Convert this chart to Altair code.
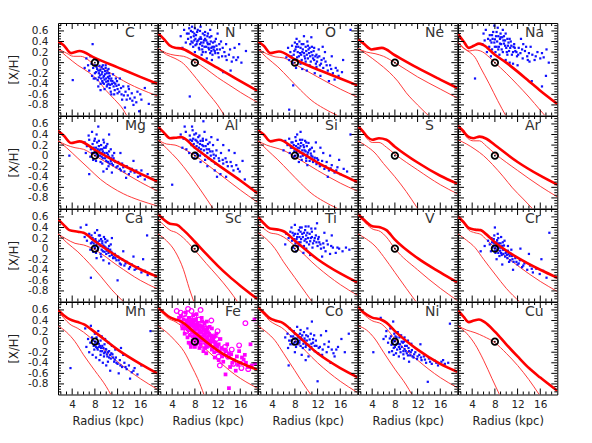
import altair as alt
import pandas as pd

ELEMENTS = ["C", "N", "O", "Ne", "Na",
            "Mg", "Al", "Si", "S", "Ar",
            "Ca", "Sc", "Ti", "V", "Cr",
            "Mn", "Fe", "Co", "Ni", "Cu"]

X_DOMAIN = [1.5, 19.0]
Y_DOMAIN = [-1.0, 0.75]
X_MAJOR = [4, 8, 12, 16]
X_MINOR = [2, 3, 5, 6, 7, 9, 10, 11, 13, 14, 15, 17, 18]
Y_MAJOR = [-0.8, -0.6, -0.4, -0.2, 0, 0.2, 0.4, 0.6]
Y_MINOR = [-0.95, -0.9, -0.85, -0.75, -0.7, -0.65, -0.55, -0.5, -0.45, -0.35, -0.3, -0.25,
           -0.15, -0.1, -0.05, 0.05, 0.1, 0.15, 0.25, 0.3, 0.35, 0.45, 0.5, 0.55, 0.65, 0.7]
SUN_R = [8.0]
SUN_XH = [0.0]

# thick model gradient curves
THICK = {
    "C": [(1.5, 0.40), (2.5, 0.33), (3.8, 0.18), (5.3, 0.22), (8, 0.09), (12, -0.09), (16, -0.27), (19, -0.40)],
    "N": [(1.5, 0.55), (2.5, 0.45), (3.5, 0.33), (4.5, 0.28), (5.5, 0.27), (8, 0.14), (12, -0.10), (16, -0.35), (19, -0.53)],
    "O": [(1.5, 0.40), (2.5, 0.32), (3.7, 0.18), (5.2, 0.21), (8, 0.06), (12, -0.13), (16, -0.30), (19, -0.43)],
    "Ne": [(1.5, 0.44), (2.5, 0.36), (3.9, 0.25), (5.7, 0.28), (8, 0.14), (12, -0.10), (16, -0.32), (19, -0.48)],
    "Na": [(1.5, 0.54), (2.5, 0.40), (3.4, 0.28), (4.3, 0.32), (5.2, 0.36), (6, 0.33), (8, 0.15), (10, 0.0), (12, -0.17), (14, -0.35), (16, -0.53), (19, -0.78)],
    "Mg": [(1.5, 0.47), (2.5, 0.38), (3.8, 0.24), (5.3, 0.27), (8, 0.11), (12, -0.13), (16, -0.34), (19, -0.49)],
    "Al": [(1.5, 0.55), (2.5, 0.44), (3.6, 0.33), (4.6, 0.34), (5.6, 0.35), (8, 0.15), (12, -0.17), (16, -0.47), (19, -0.71)],
    "Si": [(1.5, 0.48), (2.5, 0.40), (3.7, 0.27), (5.2, 0.30), (8, 0.13), (12, -0.13), (16, -0.35), (19, -0.50)],
    "S": [(1.5, 0.55), (2.3, 0.47), (3.2, 0.35), (4, 0.30), (5.2, 0.33), (6.5, 0.30), (8, 0.17), (12, -0.13), (16, -0.38), (19, -0.53)],
    "Ar": [(1.5, 0.56), (2.3, 0.48), (3.3, 0.36), (4.2, 0.33), (5.3, 0.36), (6.5, 0.32), (8, 0.20), (12, -0.12), (16, -0.38), (19, -0.55)],
    "Ca": [(1.5, 0.56), (2.5, 0.45), (3.5, 0.35), (5, 0.32), (6, 0.30), (8, 0.14), (12, -0.15), (16, -0.39), (19, -0.53)],
    "Sc": [(1.5, 0.65), (2.5, 0.55), (3.6, 0.47), (4.8, 0.45), (6, 0.35), (8, 0.13), (10, -0.10), (12, -0.32), (14, -0.52), (16, -0.70), (19, -0.95)],
    "Ti": [(1.5, 0.60), (2.5, 0.48), (3.6, 0.38), (5, 0.36), (6, 0.33), (8, 0.15), (12, -0.20), (16, -0.47), (19, -0.64)],
    "V": [(1.5, 0.65), (2.5, 0.55), (3.9, 0.43), (5.5, 0.40), (6.5, 0.35), (8, 0.17), (12, -0.18), (16, -0.45), (19, -0.64)],
    "Cr": [(1.5, 0.61), (2.5, 0.50), (3.4, 0.39), (4.5, 0.36), (5.5, 0.35), (6.5, 0.27), (8, 0.12), (12, -0.17), (16, -0.40), (19, -0.55)],
    "Mn": [(1.5, 0.60), (2.5, 0.50), (3.6, 0.42), (5, 0.37), (6, 0.33), (8, 0.18), (12, -0.15), (16, -0.42), (19, -0.60)],
    "Fe": [(1.5, 0.64), (2.5, 0.55), (3.3, 0.48), (4.5, 0.42), (5.6, 0.38), (8, 0.17), (12.8, -0.22), (16, -0.40), (19, -0.53)],
    "Co": [(1.5, 0.65), (2.5, 0.55), (3.5, 0.45), (4.5, 0.40), (5.6, 0.37), (8, 0.16), (12, -0.22), (16, -0.50), (19, -0.67)],
    "Ni": [(1.5, 0.66), (2.5, 0.55), (3.9, 0.46), (5.7, 0.41), (6.5, 0.36), (8, 0.20), (12, -0.15), (16, -0.42), (19, -0.57)],
    "Cu": [(1.5, 0.59), (2.5, 0.47), (3.4, 0.37), (4.3, 0.40), (5.2, 0.42), (6.2, 0.37), (8, 0.19), (10, -0.05), (12, -0.28), (14, -0.50), (16, -0.68), (19, -0.93)],
}

# thin model curves (upper)
MID = {
    "C": [(1.5, 0.26), (3, 0.18), (4.2, 0.12), (5.5, 0.12), (8, -0.04), (10, -0.15), (12, -0.28), (14, -0.40), (16, -0.50), (19, -0.63)],
    "N": [(1.5, 0.27), (3, 0.18), (4.5, 0.14), (6, 0.12), (8, 0.02), (10, -0.12), (12, -0.28), (14, -0.42), (16, -0.56), (19, -0.75)],
    "O": [(1.5, 0.26), (3, 0.17), (4.5, 0.11), (6, 0.09), (8, -0.03), (12, -0.27), (16, -0.50), (19, -0.65)],
    "Ne": [(1.5, 0.27), (3, 0.20), (4.5, 0.17), (6, 0.12), (8, 0.0), (12, -0.27), (16, -0.50), (19, -0.67)],
    "Na": [(1.5, 0.38), (2.5, 0.28), (3.5, 0.22), (4.5, 0.24), (5.5, 0.22), (8, 0.0), (10, -0.2), (12, -0.42), (14, -0.65), (16, -0.90), (16.8, -1.0)],
    "Mg": [(1.5, 0.28), (3, 0.20), (4.5, 0.15), (6, 0.12), (8, 0.0), (12, -0.25), (16, -0.50), (19, -0.67)],
    "Al": [(1.5, 0.30), (3, 0.22), (4.5, 0.20), (6, 0.13), (8, 0.0), (12, -0.32), (16, -0.65), (19, -0.88)],
    "Si": [(1.5, 0.28), (3, 0.20), (4.5, 0.15), (6, 0.10), (8, -0.02), (12, -0.28), (16, -0.52), (19, -0.67)],
    "S": [(1.5, 0.52), (2.3, 0.44), (3.2, 0.31), (4, 0.25), (5.2, 0.25), (6.5, 0.16), (8, 0.03), (12, -0.27), (16, -0.55), (19, -0.72)],
    "Ar": [(1.5, 0.53), (2.3, 0.45), (3.3, 0.32), (4.2, 0.28), (5.3, 0.28), (6.5, 0.18), (8, 0.04), (12, -0.28), (16, -0.58), (19, -0.78)],
    "Ca": [(1.5, 0.28), (3, 0.18), (4.5, 0.10), (6, 0.07), (8, -0.02), (12, -0.32), (16, -0.60), (19, -0.76)],
    "Sc": [(1.5, 0.55), (2.5, 0.45), (3.6, 0.35), (4.8, 0.30), (6, 0.20), (8, -0.03), (10, -0.28), (12, -0.52), (14, -0.78), (15.5, -1.0)],
    "Ti": [(1.5, 0.45), (2.5, 0.38), (3.6, 0.30), (5, 0.27), (6, 0.22), (8, 0.05), (12, -0.35), (16, -0.68), (19, -0.88)],
    "V": [(1.5, 0.62), (2.5, 0.52), (3.9, 0.38), (5.5, 0.32), (6.5, 0.22), (8, 0.0), (12, -0.40), (16, -0.75), (19, -0.98)],
    "Cr": [(1.5, 0.58), (2.5, 0.47), (3.4, 0.35), (4.5, 0.30), (5.5, 0.27), (6.5, 0.17), (8, 0.02), (12, -0.32), (16, -0.62), (19, -0.81)],
    "Mn": [(1.5, 0.57), (2.5, 0.45), (3.6, 0.33), (5, 0.25), (6, 0.18), (8, 0.0), (12, -0.38), (16, -0.70), (19, -0.90)],
    "Fe": [(1.5, 0.62), (2.5, 0.52), (3.3, 0.44), (4.5, 0.38), (5.6, 0.30), (8, 0.05), (11.6, -0.31), (15, -0.62), (19, -0.88)],
    "Co": [(1.5, 0.62), (2.5, 0.52), (3.5, 0.40), (4.5, 0.33), (5.6, 0.27), (8, 0.03), (12, -0.40), (16, -0.75), (19, -0.96)],
    "Ni": [(1.5, 0.63), (2.5, 0.52), (3.9, 0.40), (5.7, 0.33), (6.5, 0.25), (8, 0.05), (12, -0.35), (16, -0.68), (19, -0.87)],
    "Cu": [(1.5, 0.30), (3, 0.22), (4.5, 0.17), (6, 0.10), (8, -0.02), (10, -0.22), (12, -0.45), (14, -0.72), (15.8, -1.0)],
}

# thin model curves (lower, steep)
LOW = {
    "C": [(1.5, 0.26), (3, 0.12), (5, -0.05), (7, -0.19), (8.5, -0.33), (10, -0.53), (11.5, -0.70), (13, -0.89), (13.6, -1.0)],
    "N": [(1.5, 0.27), (3, 0.15), (4.5, 0.08), (6, -0.02), (7.5, -0.20), (9, -0.40), (10.5, -0.60), (12, -0.80), (13.2, -1.0)],
    "O": [(1.5, 0.26), (3, 0.10), (5, -0.08), (7, -0.30), (9, -0.52), (11, -0.72), (13, -0.86), (15.5, -1.0)],
    "Ne": [(1.5, 0.27), (3, 0.16), (5, 0.0), (7, -0.18), (8.5, -0.35), (10, -0.57), (12, -0.80), (13.9, -1.0)],
    "Na": [(1.5, 0.38), (2.5, 0.27), (3.5, 0.20), (4.5, 0.10), (5.5, -0.10), (7, -0.40), (8.5, -0.72), (9.9, -1.0)],
    "Mg": [(1.5, 0.28), (3, 0.15), (5, -0.05), (7, -0.25), (9, -0.45), (11, -0.60), (13, -0.72), (16, -0.85), (19, -0.95)],
    "Al": [(1.5, 0.30), (3, 0.14), (5, -0.08), (7, -0.35), (9, -0.65), (11.2, -1.0)],
    "Si": [(1.5, 0.28), (3, 0.12), (5, -0.08), (7, -0.30), (9, -0.52), (11, -0.72), (13, -0.86), (15.5, -1.0)],
    "S": [(1.5, 0.28), (3, 0.18), (4.5, 0.05), (6, -0.15), (8, -0.40), (10, -0.68), (12, -1.0)],
    "Ar": [(1.5, 0.30), (3, 0.22), (4.5, 0.12), (6, 0.0), (7.6, -0.17), (9.5, -0.40), (11.1, -0.61), (13, -0.82), (14.6, -1.0)],
    "Ca": [(1.5, 0.28), (3, 0.12), (5, -0.06), (7, -0.28), (9, -0.52), (11, -0.78), (13, -1.0)],
    "Sc": [(1.5, 0.28), (3, 0.15), (4.5, -0.05), (6, -0.40), (7, -0.75), (7.8, -1.0)],
    "Ti": [(1.5, 0.30), (3, 0.18), (4.5, 0.0), (6, -0.25), (8, -0.55), (10, -0.85), (11, -1.0)],
    "V": [(1.5, 0.28), (3, 0.18), (4.5, 0.05), (6, -0.15), (8, -0.45), (10, -0.75), (11.7, -1.0)],
    "Cr": [(1.5, 0.28), (3, 0.16), (4.5, 0.02), (6, -0.20), (8, -0.48), (10, -0.75), (12.3, -1.0)],
    "Mn": [(1.5, 0.30), (3, 0.18), (4.5, 0.0), (6, -0.25), (8, -0.55), (10, -0.85), (10.8, -1.0)],
    "Fe": [(1.5, 0.30), (3, 0.18), (4.5, 0.02), (6.1, -0.19), (7.5, -0.48), (8.5, -0.70), (9.6, -1.0)],
    "Co": [(1.5, 0.30), (3, 0.18), (4.5, 0.02), (6, -0.22), (8, -0.55), (10, -0.88), (10.8, -1.0)],
    "Ni": [(1.5, 0.30), (3, 0.22), (4.5, 0.05), (6, -0.20), (8, -0.52), (10, -0.82), (11, -1.0)],
    "Cu": [(1.5, 0.30), (3, 0.16), (4.5, -0.05), (6, -0.35), (7.5, -0.70), (8.8, -1.0)],
}

C_OBS = [(7.6, 0.35), (7.2, 0.12), (7.9, 0.08), (8.3, 0.05), (8.6, 0.02), (7.4, -0.02), (8.0, -0.05), (8.8, -0.06), (9.2, -0.08), (7.7, -0.10),
         (8.4, -0.12), (9.0, -0.13), (9.5, -0.12), (8.2, -0.18), (8.7, -0.20), (9.3, -0.18), (9.8, -0.16), (10.1, -0.20), (8.9, -0.24), (9.6, -0.25),
         (10.3, -0.27), (9.1, -0.30), (9.7, -0.32), (10.5, -0.30), (8.5, -0.33), (10.0, -0.36), (10.8, -0.34), (9.4, -0.38), (11.0, -0.40), (10.2, -0.42),
         (11.4, -0.38), (11.8, -0.44), (10.6, -0.48), (12.2, -0.42), (12.6, -0.48), (11.5, -0.52), (13.0, -0.45), (13.4, -0.55), (12.0, -0.58), (14.0, -0.50),
         (13.8, -0.62), (14.5, -0.58), (15.0, -0.66), (12.8, -0.70), (15.5, -0.55), (16.2, -0.70), (14.8, -0.80), (13.3, -0.85), (15.8, -0.92), (6.8, -0.05),
         (6.5, 0.08), (7.0, -0.15), (7.5, -0.25), (8.1, -0.30), (4.1, -0.33), (9.9, -0.05), (10.4, -0.12), (11.2, -0.22), (11.7, -0.30), (12.4, -0.30),
         (6.2, -0.10), (8.6, -0.45), (9.0, -0.52), (10.9, -0.60), (16.8, -0.48), (17.5, -0.78)]
N_OBS = [(6.1, 0.62), (6.6, 0.55), (7.0, 0.65), (7.3, 0.48), (7.6, 0.58), (7.9, 0.42), (8.2, 0.52), (8.5, 0.62), (8.8, 0.45), (9.1, 0.38),
         (9.4, 0.55), (9.7, 0.30), (10.0, 0.42), (10.3, 0.35), (10.6, 0.48), (10.9, 0.28), (11.2, 0.38), (11.5, 0.22), (11.8, 0.32), (12.1, 0.18),
         (7.2, 0.35), (7.7, 0.30), (8.1, 0.33), (8.4, 0.40), (8.7, 0.28), (9.0, 0.48), (9.3, 0.25), (9.6, 0.42), (9.9, 0.20), (10.2, 0.50),
         (10.5, 0.25), (10.8, 0.40), (11.1, 0.15), (11.4, 0.30), (12.4, 0.25), (12.8, 0.12), (13.2, 0.20), (13.6, 0.05), (14.0, 0.15), (14.5, 0.02),
         (15.0, 0.28), (15.6, 0.10), (16.2, 0.00), (17.0, 0.22), (12.6, 0.40), (13.5, 0.35), (6.8, 0.45), (6.4, 0.38), (7.5, 0.68), (8.9, 0.60),
         (9.8, 0.58), (10.7, 0.62), (11.7, 0.45), (13.0, -0.18), (14.3, -0.15), (7.1, -0.64), (8.0, 0.20), (9.2, 0.15), (10.1, 0.08), (11.0, 0.05),
         (5.5, 0.50), (5.8, 0.28), (12.0, 0.55), (15.8, 0.35)]
O_OBS = [(6.8, 0.28), (7.2, 0.20), (7.5, 0.32), (7.8, 0.15), (8.1, 0.25), (8.4, 0.10), (8.6, 0.30), (8.9, 0.18), (9.2, 0.05), (9.4, 0.25),
         (9.7, 0.12), (10.0, 0.22), (10.3, 0.08), (10.5, 0.18), (10.8, 0.02), (11.1, 0.14), (11.4, 0.05), (11.7, -0.02), (12.0, 0.10), (12.4, -0.05),
         (7.0, 0.05), (7.6, 0.00), (8.0, 0.38), (8.3, 0.45), (8.8, 0.40), (9.0, -0.02), (9.5, 0.35), (9.9, 0.30), (10.2, 0.40), (10.6, 0.28),
         (11.0, 0.30), (11.3, 0.22), (11.8, 0.15), (12.2, 0.25), (12.7, 0.05), (13.0, -0.10), (13.4, 0.02), (13.8, -0.15), (14.2, -0.05), (14.7, -0.20),
         (15.2, -0.10), (15.7, -0.25), (16.3, -0.18), (13.3, 0.20), (14.5, 0.12), (16.5, 0.05), (7.7, -0.43), (7.0, -0.89), (9.6, 0.50), (10.9, 0.48),
         (12.9, 0.30), (17.8, 0.62), (6.5, 0.10), (8.2, -0.10), (9.3, -0.12), (10.1, -0.15), (11.5, -0.20), (12.5, -0.25), (14.0, -0.35), (15.0, -0.32)]
NA_OBS = [(6.0, 0.55), (6.4, 0.62), (6.8, 0.45), (7.1, 0.52), (7.4, 0.38), (7.7, 0.58), (8.0, 0.44), (8.3, 0.30), (8.6, 0.50), (8.9, 0.36),
          (9.2, 0.25), (9.5, 0.42), (9.8, 0.32), (10.1, 0.20), (10.4, 0.38), (10.7, 0.28), (11.0, 0.15), (11.3, 0.30), (11.6, 0.22), (11.9, 0.12),
          (7.0, 0.30), (7.5, 0.25), (8.1, 0.20), (8.8, 0.15), (9.0, 0.55), (9.6, 0.50), (10.2, 0.45), (10.8, 0.40), (11.4, 0.35), (12.2, 0.28),
          (12.5, 0.18), (12.9, 0.08), (13.3, 0.22), (13.7, 0.12), (14.1, 0.02), (14.6, 0.15), (15.0, 0.05), (15.5, 0.20), (16.0, 0.08), (16.6, 0.10),
          (17.1, 0.25), (17.5, 0.00), (13.0, 0.35), (14.3, 0.30), (7.9, 0.70), (8.5, 0.66), (9.4, 0.62), (6.6, 0.20), (7.3, 0.12), (9.9, 0.05),
          (10.6, 0.00), (11.2, -0.02), (12.0, -0.05), (4.5, -0.30), (14.5, -0.35), (17.0, -0.25), (16.3, -0.45), (5.8, 0.35), (6.2, 0.42), (12.6, 0.45)]
MG_OBS = [(6.2, 0.25), (6.6, 0.18), (7.0, 0.30), (7.3, 0.12), (7.6, 0.22), (7.9, 0.05), (8.2, 0.15), (8.5, -0.02), (8.8, 0.10), (9.1, 0.20),
          (9.4, -0.05), (9.7, 0.05), (10.0, -0.10), (10.3, 0.02), (10.6, -0.15), (10.9, -0.05), (11.2, -0.18), (11.5, -0.10), (11.8, -0.22), (12.1, -0.12),
          (7.2, -0.02), (7.7, -0.08), (8.0, 0.32), (8.3, 0.40), (8.7, 0.28), (9.0, -0.12), (9.3, 0.12), (9.6, 0.25), (9.9, 0.15), (10.2, 0.22),
          (10.5, 0.08), (10.8, 0.12), (11.1, 0.00), (11.4, 0.05), (12.4, -0.25), (12.8, -0.15), (13.2, -0.30), (13.6, -0.20), (14.0, -0.35), (14.5, -0.25),
          (15.0, -0.32), (15.6, -0.40), (16.2, -0.28), (16.8, -0.45), (7.5, 0.45), (8.6, 0.55), (10.5, 0.40), (3.5, 0.00), (7.0, -0.35), (9.5, -0.30),
          (6.4, 0.05), (6.9, 0.38), (12.5, 0.05), (13.5, -0.42), (8.9, 0.00), (9.2, 0.05), (10.1, -0.25), (11.0, -0.32), (14.8, -0.10), (17.3, -0.35)]
AL_OBS = [(5.5, 0.40), (6.0, 0.32), (6.4, 0.45), (6.8, 0.28), (7.1, 0.38), (7.4, 0.20), (7.7, 0.32), (8.0, 0.15), (8.3, 0.28), (8.6, 0.10),
          (8.9, 0.22), (9.2, 0.05), (9.5, 0.18), (9.8, 0.00), (10.1, 0.12), (10.4, -0.05), (10.7, 0.08), (11.0, -0.10), (11.3, 0.02), (11.6, -0.15),
          (6.5, 0.12), (7.0, 0.05), (7.6, 0.48), (8.2, 0.42), (8.8, 0.38), (9.4, 0.32), (10.0, 0.30), (10.6, 0.25), (11.2, 0.20), (11.8, 0.10),
          (12.2, -0.05), (12.6, 0.05), (13.0, -0.15), (13.4, -0.05), (13.8, -0.20), (14.3, -0.12), (14.8, -0.28), (15.3, -0.18), (15.9, -0.30), (16.4, -0.10),
          (9.5, 0.65), (7.5, 0.55), (4.0, -0.55), (12.0, 0.30), (13.0, 0.20), (9.0, -0.12), (10.2, -0.20), (11.5, -0.28), (12.5, -0.35), (13.5, -0.40),
          (5.8, 0.15), (8.4, 0.02), (9.7, 0.45), (10.9, 0.35), (14.0, 0.10), (15.0, 0.05), (6.2, 0.55), (7.9, -0.05), (11.9, -0.40), (16.8, -0.45)]
SI_OBS = [(6.3, 0.28), (6.7, 0.20), (7.0, 0.32), (7.3, 0.15), (7.6, 0.25), (7.9, 0.08), (8.2, 0.18), (8.5, 0.02), (8.8, 0.14), (9.1, 0.24),
          (9.4, 0.00), (9.7, 0.10), (10.0, -0.05), (10.3, 0.06), (10.6, -0.10), (10.9, 0.00), (11.2, -0.12), (11.5, -0.04), (11.8, -0.16), (12.1, -0.08),
          (7.1, 0.05), (7.8, -0.02), (8.1, 0.35), (8.4, 0.40), (8.9, 0.30), (9.2, -0.08), (9.5, 0.20), (9.8, 0.28), (10.1, 0.18), (10.4, 0.24),
          (10.7, 0.12), (11.0, 0.15), (11.4, 0.08), (12.4, -0.20), (12.8, -0.10), (13.2, -0.25), (13.6, -0.12), (14.0, -0.28), (14.5, -0.18), (15.0, -0.32),
          (15.5, -0.22), (16.0, -0.35), (16.6, -0.25), (17.2, -0.30), (13.0, 0.05), (14.2, 0.00), (15.8, -0.08), (17.8, 0.40), (6.0, 0.10), (9.0, 0.45),
          (12.5, 0.15), (13.8, -0.40), (11.7, 0.25), (8.7, -0.12), (10.2, -0.18)]
CA_OBS = [(6.2, 0.22), (6.6, 0.15), (7.0, 0.28), (7.3, 0.10), (7.6, 0.20), (7.9, 0.04), (8.2, 0.14), (8.5, -0.02), (8.8, 0.08), (9.1, 0.18),
          (9.4, -0.05), (9.7, 0.04), (10.0, -0.10), (10.3, 0.00), (10.6, -0.14), (10.9, -0.06), (11.2, -0.18), (11.5, -0.10), (11.8, -0.22), (12.1, -0.15),
          (7.2, -0.02), (7.7, -0.06), (8.0, 0.30), (8.4, 0.35), (8.7, 0.25), (9.0, -0.10), (9.3, 0.10), (9.6, 0.22), (9.9, 0.12), (10.2, 0.15),
          (10.5, 0.05), (10.8, 0.08), (12.4, -0.28), (12.8, -0.20), (13.2, -0.32), (13.6, -0.25), (14.0, -0.38), (14.5, -0.30), (15.0, -0.40), (15.6, -0.35),
          (16.2, -0.45), (16.8, -0.42), (17.3, -0.50), (5.5, 0.40), (7.3, -0.55), (12.0, -0.60), (13.0, -0.05), (14.8, -0.15), (16.5, -0.20), (17.2, 0.25),
          (6.5, 0.45), (8.3, -0.18), (11.0, 0.20), (9.5, -0.22), (10.5, -0.28)]
TI_OBS = [(6.5, 0.28), (6.9, 0.20), (7.2, 0.32), (7.5, 0.15), (7.8, 0.25), (8.1, 0.10), (8.4, 0.22), (8.7, 0.35), (9.0, 0.12), (9.3, 0.28),
          (9.6, 0.05), (9.9, 0.18), (10.2, 0.30), (10.5, 0.08), (10.8, 0.20), (11.1, 0.02), (11.4, 0.15), (11.7, 0.25), (12.0, 0.05), (12.3, 0.12),
          (7.4, 0.40), (8.0, 0.45), (8.6, 0.05), (9.2, 0.40), (9.8, 0.35), (10.4, 0.42), (11.0, 0.32), (11.6, 0.38), (12.2, 0.22), (12.6, 0.00),
          (13.0, 0.10), (13.4, -0.05), (13.8, 0.08), (14.2, -0.10), (14.7, 0.02), (15.2, -0.08), (15.8, 0.00), (16.4, -0.05), (17.0, 0.02), (13.2, 0.30),
          (14.5, 0.25), (8.2, -0.05), (9.5, -0.08), (10.7, -0.12), (12.8, -0.15), (17.6, -0.02), (11.9, 0.48), (6.3, 0.08), (7.7, 0.02), (10.0, 0.00)]
CR_OBS = [(6.8, 0.15), (7.1, 0.08), (7.4, 0.20), (7.6, 0.02), (7.8, 0.12), (8.0, -0.04), (8.2, 0.06), (8.4, 0.16), (8.6, -0.08), (8.8, 0.02),
          (9.0, 0.10), (9.2, -0.12), (9.4, -0.02), (9.6, 0.06), (9.8, -0.15), (10.0, -0.06), (10.2, -0.18), (10.4, -0.10), (10.7, -0.22), (11.0, -0.14),
          (7.3, -0.05), (7.9, 0.25), (8.5, 0.28), (9.1, 0.22), (9.7, 0.15), (10.3, 0.05), (10.9, -0.02), (11.3, -0.25), (11.6, -0.18), (12.0, -0.30),
          (12.4, -0.22), (12.8, -0.35), (13.2, -0.28), (13.7, -0.40), (14.2, -0.32), (14.7, -0.45), (15.3, -0.38), (15.9, -0.48), (16.5, -0.42), (17.1, -0.55),
          (8.0, 0.40), (17.6, 0.30), (6.2, 0.05), (5.5, -0.05), (12.5, 0.00), (14.0, -0.10), (9.3, -0.30), (11.2, -0.40), (8.3, -0.20), (16.2, -0.20)]
MN_OBS = [(6.8, 0.05), (7.2, -0.02), (7.5, 0.08), (7.8, -0.08), (8.1, 0.00), (8.4, -0.12), (8.7, -0.04), (9.0, -0.18), (9.3, -0.08), (9.6, -0.22),
          (9.9, -0.14), (10.2, -0.28), (10.5, -0.18), (10.8, -0.32), (11.1, -0.24), (11.4, -0.38), (11.7, -0.30), (12.0, -0.42), (12.4, -0.35), (12.8, -0.48),
          (7.0, -0.20), (7.6, -0.25), (8.2, -0.30), (8.8, -0.35), (9.4, -0.40), (10.0, -0.45), (8.0, 0.15), (8.6, 0.20), (9.2, 0.10), (9.8, 0.05),
          (10.4, -0.02), (11.0, -0.08), (11.6, -0.15), (13.2, -0.40), (13.6, -0.52), (14.0, -0.45), (14.5, -0.58), (15.0, -0.50), (15.5, -0.62), (13.0, -0.25),
          (6.3, 0.25), (7.3, 0.30), (3.7, -0.50), (12.2, -0.60), (14.2, -0.70), (16.2, -0.45), (17.8, 0.20), (6.5, -0.10), (10.7, -0.55), (12.6, -0.12)]
CO_OBS = [(6.3, 0.08), (6.7, 0.15), (7.0, 0.02), (7.3, 0.10), (7.6, -0.05), (7.9, 0.05), (8.2, -0.10), (8.5, 0.12), (8.8, -0.02), (9.1, 0.08),
          (9.4, -0.12), (9.7, 0.02), (10.0, -0.06), (10.3, 0.10), (10.6, -0.15), (10.9, -0.04), (11.2, 0.05), (11.5, -0.18), (11.8, -0.08), (12.1, -0.22),
          (7.1, 0.25), (7.8, 0.20), (8.4, 0.28), (9.0, 0.22), (9.6, 0.18), (10.2, 0.25), (10.8, 0.15), (11.4, 0.12), (6.8, -0.12), (8.0, -0.20),
          (9.2, -0.25), (10.4, -0.28), (12.4, -0.10), (12.8, -0.25), (13.2, -0.05), (13.6, -0.20), (14.0, 0.00), (14.5, -0.15), (15.0, -0.28), (15.6, -0.10),
          (16.2, 0.05), (16.8, -0.20), (17.5, 0.15), (13.5, 0.20), (6.9, -0.45), (12.0, -0.75), (14.3, -0.40), (11.0, 0.38), (12.6, 0.12), (9.9, -0.35)]
NI_OBS = [(6.0, 0.05), (6.4, 0.10), (6.8, -0.02), (7.1, 0.06), (7.4, -0.06), (7.7, 0.02), (8.0, -0.10), (8.3, 0.08), (8.6, -0.04), (8.9, -0.14),
          (9.2, 0.00), (9.5, -0.18), (9.8, -0.08), (10.1, -0.22), (10.4, -0.12), (10.7, -0.26), (11.0, -0.16), (11.3, -0.30), (11.6, -0.20), (11.9, -0.33),
          (6.5, 0.20), (7.2, 0.25), (7.9, 0.15), (8.5, 0.18), (9.1, 0.12), (9.7, 0.08), (10.3, 0.02), (10.9, -0.04), (7.0, -0.20), (7.8, -0.25),
          (8.7, -0.28), (9.6, -0.32), (10.5, -0.38), (12.3, -0.25), (12.7, -0.35), (13.1, -0.28), (13.5, -0.40), (14.0, -0.32), (14.5, -0.42), (15.0, -0.36),
          (15.6, -0.45), (16.2, -0.38), (16.8, -0.42), (17.4, -0.40), (7.7, 0.38), (4.2, -0.20), (17.7, 0.34), (13.8, -0.76), (12.5, -0.05), (5.5, 0.45)]

# denser cores of the same clouds
C_CORE = [(8.9, -0.15), (9.2, -0.22), (9.5, -0.28), (9.8, -0.22), (10.0, -0.30), (10.3, -0.35), (10.6, -0.25), (10.9, -0.30), (9.3, -0.35), (9.6, -0.40),
          (10.1, -0.45), (10.4, -0.40), (10.7, -0.42), (11.1, -0.35), (11.3, -0.45), (8.7, -0.28), (9.0, -0.40), (9.9, -0.10), (10.2, -0.15), (10.5, -0.20),
          (8.3, -0.08), (8.6, -0.15), (9.4, -0.05), (11.6, -0.40), (12.0, -0.50), (11.9, -0.35), (12.3, -0.55), (12.7, -0.60), (13.1, -0.62), (13.6, -0.70),
          (14.2, -0.68), (14.6, -0.72), (8.0, -0.20), (7.8, -0.30), (9.7, -0.50), (10.8, -0.55), (11.4, -0.60), (13.9, -0.45), (15.3, -0.75), (16.0, -0.60)]
N_CORE = [(7.4, 0.40), (7.8, 0.50), (8.1, 0.45), (8.3, 0.35), (8.6, 0.42), (8.9, 0.35), (9.1, 0.45), (9.3, 0.32), (9.5, 0.38), (9.8, 0.45),
          (10.0, 0.30), (10.2, 0.38), (10.4, 0.28), (10.6, 0.35), (10.9, 0.22), (11.1, 0.30), (11.3, 0.25), (11.6, 0.18), (11.9, 0.25), (12.2, 0.10),
          (7.9, 0.55), (8.4, 0.58), (9.7, 0.52), (10.3, 0.55), (10.9, 0.50), (11.5, 0.40), (7.6, 0.38), (8.8, 0.25), (9.4, 0.20), (10.7, 0.18),
          (12.3, 0.35), (12.9, 0.28), (13.4, 0.12), (14.2, 0.25), (14.8, 0.10), (15.3, 0.05), (6.9, 0.55), (7.3, 0.60), (8.0, 0.65), (9.0, 0.68)]
O_CORE = [(8.5, 0.20), (8.7, 0.12), (9.0, 0.28), (9.1, 0.15), (9.3, 0.20), (9.6, 0.18), (9.8, 0.08), (10.1, 0.15), (10.4, 0.25), (10.7, 0.12),
          (10.9, 0.20), (11.2, 0.08), (11.6, 0.12), (11.9, 0.02), (12.3, 0.12), (12.6, -0.02), (8.2, 0.30), (8.4, 0.35), (9.2, 0.35), (10.3, 0.32),
          (11.4, 0.28), (7.9, 0.22), (7.4, 0.12), (9.9, 0.02), (10.6, -0.05), (11.8, -0.08), (13.1, 0.08), (13.6, -0.05), (14.4, -0.12), (15.5, -0.15)]
NA_CORE = [(7.6, 0.45), (7.9, 0.38), (8.2, 0.50), (8.4, 0.40), (8.7, 0.30), (8.9, 0.45), (9.1, 0.35), (9.3, 0.48), (9.6, 0.36), (9.8, 0.42),
           (10.0, 0.28), (10.3, 0.32), (10.5, 0.22), (10.9, 0.32), (11.2, 0.20), (11.5, 0.28), (11.8, 0.20), (12.1, 0.15), (8.0, 0.30), (8.6, 0.25),
           (9.4, 0.20), (10.2, 0.15), (7.2, 0.42), (7.5, 0.52), (8.3, 0.58), (9.0, 0.48), (9.9, 0.55), (10.6, 0.45), (12.8, 0.25), (13.5, 0.30),
           (14.0, 0.18), (15.2, 0.12), (16.3, 0.18), (13.8, 0.05)]
MG_CORE = [(7.8, 0.15), (8.0, 0.08), (8.3, 0.02), (8.5, 0.12), (8.7, 0.18), (8.9, 0.05), (9.0, 0.12), (9.2, -0.02), (9.4, 0.08), (9.6, 0.15),
           (9.8, -0.05), (10.1, 0.05), (10.3, -0.12), (10.5, -0.02), (10.8, -0.10), (11.0, -0.15), (11.3, -0.05), (11.6, -0.12), (7.5, 0.05), (7.9, 0.28),
           (8.4, 0.25), (9.5, 0.30), (10.0, 0.18), (8.2, -0.10), (9.3, -0.15), (10.4, -0.20), (12.0, -0.20), (12.6, -0.28), (13.0, -0.22), (14.3, -0.30),
           (15.3, -0.28), (16.0, -0.38)]
AL_CORE = [(7.5, 0.28), (7.8, 0.22), (8.1, 0.30), (8.3, 0.18), (8.5, 0.25), (8.7, 0.15), (9.0, 0.28), (9.1, 0.12), (9.3, 0.20), (9.6, 0.10),
           (9.9, 0.18), (10.2, 0.05), (10.5, 0.12), (10.8, 0.00), (11.1, 0.08), (11.4, -0.05), (7.2, 0.30), (7.9, 0.40), (8.6, 0.35), (9.4, 0.28),
           (10.3, 0.22), (8.0, 0.05), (8.9, 0.00), (9.8, -0.08), (11.7, 0.00), (12.3, -0.10), (12.9, -0.08), (13.6, -0.12), (14.5, -0.20), (15.6, -0.25)]
SI_CORE = [(7.6, 0.15), (7.8, 0.20), (8.0, 0.12), (8.3, 0.08), (8.5, 0.15), (8.6, 0.22), (8.9, 0.06), (9.0, 0.18), (9.3, 0.10), (9.5, 0.04),
           (9.6, 0.16), (9.9, 0.08), (10.2, 0.02), (10.5, 0.10), (10.8, 0.04), (11.1, -0.02), (11.4, -0.08), (7.4, 0.25), (8.2, 0.28), (9.3, 0.30),
           (10.0, 0.25), (8.1, 0.00), (9.0, -0.02), (10.0, -0.10), (11.9, -0.05), (12.2, -0.14), (12.7, -0.18), (13.4, -0.20), (14.3, -0.24), (15.3, -0.28)]
CA_CORE = [(7.8, 0.10), (8.0, 0.02), (8.1, 0.18), (8.3, 0.08), (8.5, 0.12), (8.6, 0.02), (8.8, 0.15), (9.0, 0.05), (9.2, -0.02), (9.3, 0.14),
           (9.5, 0.06), (9.7, -0.06), (9.9, 0.02), (10.1, -0.04), (10.4, -0.08), (10.7, -0.02), (11.0, -0.12), (11.3, -0.16), (7.5, 0.12), (7.4, 0.25),
           (8.9, 0.25), (9.8, 0.18), (8.2, -0.08), (9.1, -0.15), (11.6, -0.18), (12.2, -0.22), (12.6, -0.30), (13.4, -0.28), (14.2, -0.35), (15.3, -0.38)]
TI_CORE = [(8.0, 0.28), (8.3, 0.18), (8.5, 0.28), (8.8, 0.22), (9.0, 0.32), (9.1, 0.18), (9.4, 0.22), (9.6, 0.30), (9.7, 0.15), (10.0, 0.25),
           (10.1, 0.12), (10.3, 0.20), (10.6, 0.28), (10.7, 0.14), (11.0, 0.22), (11.2, 0.10), (11.5, 0.20), (11.8, 0.12), (12.1, 0.18), (8.9, 0.40),
           (9.9, 0.42), (10.9, 0.38), (7.6, 0.30), (7.9, 0.18), (8.7, 0.12), (12.5, 0.08), (13.1, 0.02), (13.6, 0.15), (14.4, 0.05), (15.5, 0.02)]
CR_CORE = [(7.7, 0.05), (7.9, 0.10), (8.1, 0.02), (8.1, -0.08), (8.3, 0.12), (8.4, -0.02), (8.5, 0.05), (8.7, 0.10), (8.9, -0.04), (9.0, 0.02),
           (9.1, -0.08), (9.3, 0.05), (9.5, -0.10), (9.6, -0.02), (9.9, -0.08), (10.1, -0.12), (10.3, -0.04), (10.6, -0.14), (10.8, -0.10), (11.1, -0.20),
           (7.5, 0.12), (7.8, 0.18), (8.6, 0.20), (9.4, 0.12), (8.8, -0.14), (10.5, -0.25), (11.8, -0.25), (12.2, -0.28), (13.0, -0.32), (14.5, -0.38)]
MN_CORE = [(8.0, -0.05), (8.2, -0.10), (8.4, -0.02), (8.5, -0.15), (8.7, -0.10), (8.9, -0.08), (9.0, -0.25), (9.1, -0.12), (9.3, -0.18), (9.5, -0.12),
           (9.6, -0.28), (9.8, -0.20), (10.0, -0.15), (10.1, -0.24), (10.3, -0.20), (10.5, -0.30), (10.7, -0.25), (10.9, -0.22), (11.2, -0.30), (11.5, -0.34),
           (7.7, 0.02), (7.9, -0.15), (8.3, 0.08), (9.0, 0.02), (9.7, -0.05), (10.3, -0.38), (11.8, -0.40), (12.5, -0.45), (13.4, -0.48), (14.8, -0.55)]
CO_CORE = [(7.4, 0.02), (7.7, 0.10), (7.9, -0.02), (8.1, 0.06), (8.3, 0.00), (8.5, -0.05), (8.6, 0.08), (8.8, 0.02), (9.0, -0.08), (9.2, 0.04),
           (9.3, 0.12), (9.5, -0.04), (9.7, 0.06), (9.9, -0.10), (10.1, 0.02), (10.4, -0.06), (10.6, 0.04), (10.9, -0.10), (11.2, -0.02), (11.5, -0.08),
           (7.2, -0.05), (8.0, 0.15), (8.9, 0.15), (10.0, 0.12), (11.7, 0.02), (12.2, -0.12), (12.9, -0.15), (13.9, -0.10), (14.8, -0.22), (15.3, -0.15)]
NI_CORE = [(7.6, -0.02), (7.8, -0.12), (8.0, 0.02), (8.2, -0.06), (8.4, -0.15), (8.5, -0.02), (8.7, -0.10), (8.9, -0.05), (9.0, -0.20), (9.2, -0.10),
           (9.4, -0.02), (9.5, -0.24), (9.7, -0.14), (9.9, -0.18), (10.1, -0.08), (10.3, -0.26), (10.5, -0.18), (10.8, -0.20), (11.1, -0.28), (11.4, -0.24),
           (7.3, 0.10), (8.1, 0.10), (8.8, 0.08), (9.6, 0.00), (7.5, -0.18), (8.2, -0.22), (12.0, -0.28), (12.6, -0.30), (13.3, -0.34), (14.2, -0.38),
           (15.3, -0.40), (16.5, -0.35)]

FE_FILLED = [(5.2, 0.45), (5.6, 0.38), (6.0, 0.42), (6.3, 0.30), (6.6, 0.35), (6.9, 0.22), (7.2, 0.32), (7.5, 0.18), (7.8, 0.28), (8.1, 0.12),
             (8.4, 0.24), (8.7, 0.08), (9.0, 0.20), (9.3, 0.02), (9.6, 0.14), (9.9, -0.04), (10.2, 0.08), (10.5, -0.08), (10.8, 0.02), (11.1, -0.12),
             (6.2, 0.15), (6.7, 0.08), (7.1, 0.12), (7.6, 0.02), (8.0, 0.40), (8.5, 0.35), (8.9, 0.30), (9.4, 0.28), (9.8, 0.22), (10.3, 0.18),
             (10.7, 0.12), (11.2, 0.05), (11.6, -0.02), (12.0, -0.10), (11.4, -0.20), (12.3, -0.18), (12.7, -0.12), (13.1, -0.25), (13.5, -0.18), (13.9, -0.30),
             (14.4, -0.24), (14.9, -0.35), (15.4, -0.28), (16.0, -0.40), (16.6, -0.34), (17.4, -0.48), (18.6, -0.42), (13.0, -0.38), (14.2, -0.48), (15.2, -0.55),
             (13.4, -0.62), (14.0, -0.88), (17.8, -0.05), (18.5, 0.42), (7.3, -0.10), (8.2, -0.05), (8.8, -0.12), (9.5, -0.18), (10.0, -0.22), (7.0, 0.45),
             (7.7, 0.50), (8.3, 0.52), (9.2, 0.45), (10.1, 0.38), (11.0, 0.25), (5.8, 0.25), (6.4, 0.55), (12.5, 0.05), (11.8, 0.15), (9.7, 0.35),
             (8.6, -0.02), (7.9, 0.16), (9.1, 0.10), (10.6, 0.28), (11.5, -0.30), (12.2, -0.35), (6.9, -0.02), (13.7, -0.05), (15.8, -0.18), (16.8, -0.25)]
FE_FILLED_CORE = [(6.5, 0.40), (6.8, 0.30), (7.0, 0.38), (7.2, 0.22), (7.4, 0.30), (7.5, 0.40), (7.7, 0.20), (7.8, 0.35), (8.0, 0.22), (8.1, 0.30),
                  (8.3, 0.15), (8.4, 0.05), (8.5, 0.28), (8.6, 0.15), (8.8, 0.22), (8.9, 0.02), (9.0, 0.10), (9.1, 0.28), (9.2, 0.18), (9.4, 0.08),
                  (9.5, 0.22), (9.6, 0.02), (9.7, 0.12), (9.9, 0.18), (10.0, 0.05), (10.1, -0.10), (10.2, 0.25), (10.4, 0.00), (10.5, 0.15), (10.7, -0.04),
                  (10.9, 0.10), (11.0, -0.15), (11.3, 0.00), (11.5, 0.10), (11.7, -0.08), (11.9, -0.18), (12.2, -0.05), (12.5, -0.22), (12.8, -0.28), (13.2, -0.15),
                  (7.6, 0.10), (8.2, 0.42), (9.3, 0.38), (6.0, 0.32), (6.5, 0.25), (5.5, 0.48), (7.2, -0.04), (8.0, -0.10), (9.0, -0.05), (9.8, -0.12),
                  (14.0, -0.22), (14.6, -0.40), (15.6, -0.44), (16.3, -0.30), (17.0, -0.40), (18.0, -0.45)]
FE_OPEN = [(4.8, 0.58), (5.5, 0.55), (6.1, 0.52), (6.8, 0.62), (7.4, 0.58), (5.9, 0.30), (6.5, 0.20), (7.3, 0.40), (8.0, 0.30), (8.7, 0.42),
           (9.3, 0.35), (10.0, 0.25), (10.5, 0.00), (11.3, 0.10), (12.0, 0.20), (12.8, -0.20), (13.3, -0.10), (14.5, -0.15), (15.8, -0.07), (14.8, -0.42),
           (16.2, -0.50), (12.4, -0.45), (9.8, 0.10), (8.4, 0.05), (7.6, 0.25), (11.0, -0.05), (10.9, 0.40), (9.0, 0.60), (16.9, 0.35), (17.4, -0.52),
           (7.0, 0.35), (8.2, 0.20), (9.6, 0.28), (10.4, 0.08), (11.8, 0.05), (13.8, -0.28), (6.3, 0.45), (7.9, 0.48), (9.5, -0.08), (12.2, -0.28)]

OBS = {"C": C_OBS + C_CORE, "N": N_OBS + N_CORE, "O": O_OBS + O_CORE, "Na": NA_OBS + NA_CORE,
       "Mg": MG_OBS + MG_CORE, "Al": AL_OBS + AL_CORE, "Si": SI_OBS + SI_CORE, "Ca": CA_OBS + CA_CORE,
       "Ti": TI_OBS + TI_CORE, "Cr": CR_OBS + CR_CORE, "Mn": MN_OBS + MN_CORE,
       "Co": CO_OBS + CO_CORE, "Ni": NI_OBS + NI_CORE}

W, H = 99.3, 92.5
FONT = "DejaVu Sans"
xs = alt.Scale(domain=X_DOMAIN, nice=False, zero=False)
ys = alt.Scale(domain=Y_DOMAIN, nice=False, zero=False)


def pts_df(pts):
    return pd.DataFrame({"x": [p[0] for p in pts], "y": [p[1] for p in pts]})


def tick_layers():
    layers = []
    for vals, L in [(X_MAJOR, 6), (X_MINOR, 3)]:
        base = alt.Chart(pd.DataFrame({"v": vals})).mark_rule(color="black", strokeWidth=1)
        xe = alt.X("v:Q", scale=xs, axis=None)
        layers.append(base.encode(x=xe, y=alt.value(0), y2=alt.value(L)))
        layers.append(base.encode(x=xe, y=alt.value(H), y2=alt.value(H - L)))
    for vals, L in [(Y_MAJOR, 6), (Y_MINOR, 3)]:
        base = alt.Chart(pd.DataFrame({"v": vals})).mark_rule(color="black", strokeWidth=1)
        ye = alt.Y("v:Q", scale=ys, axis=None)
        layers.append(base.encode(y=ye, x=alt.value(0), x2=alt.value(L)))
        layers.append(base.encode(y=ye, x=alt.value(W), x2=alt.value(W - L)))
    return layers


def panel(el, row, col):
    if row == 3:
        xaxis = alt.Axis(values=X_MAJOR, ticks=False, domain=False, grid=False,
                         labelPadding=5, title="Radius (kpc)", titlePadding=5)
    else:
        xaxis = None
    if col == 0:
        yaxis = alt.Axis(values=Y_MAJOR, ticks=False, domain=False, grid=False,
                         labelPadding=10, title="[X/H]", titlePadding=8,
                         labelExpr="datum.value == 0 ? '0' : (datum.value < 0 ? '-' : '') + format(abs(datum.value), '.1f')")
    else:
        yaxis = None

    rows = []
    for kind, d in [("thick", THICK), ("mid", MID), ("low", LOW)]:
        for x, y in d[el]:
            rows.append({"x": x, "y": y, "kind": kind})
    cdf = pd.DataFrame(rows)

    thin = alt.Chart(cdf).transform_filter("datum.kind != 'thick'").mark_line(
        color="#ff3b3b", strokeWidth=1, interpolate="monotone", clip=True
    ).encode(x=alt.X("x:Q", scale=xs, axis=xaxis), y=alt.Y("y:Q", scale=ys, axis=yaxis),
             detail="kind:N")
    thick = alt.Chart(cdf).transform_filter("datum.kind == 'thick'").mark_line(
        color="#ff0000", strokeWidth=2.6, interpolate="monotone", clip=True
    ).encode(x=alt.X("x:Q", scale=xs, axis=None), y=alt.Y("y:Q", scale=ys, axis=None))

    layers = [thin]
    if el in OBS:
        layers.append(alt.Chart(pts_df(OBS[el])).mark_square(color="#1010ff", size=5, opacity=1).encode(
            x=alt.X("x:Q", scale=xs, axis=None), y=alt.Y("y:Q", scale=ys, axis=None)))
    if el == "Fe":
        layers.append(alt.Chart(pts_df(FE_OPEN)).mark_point(shape="circle", filled=False, color="#ff00ff",
                                                             size=22, strokeWidth=1.2, opacity=1).encode(
            x=alt.X("x:Q", scale=xs, axis=None), y=alt.Y("y:Q", scale=ys, axis=None)))
        layers.append(alt.Chart(pts_df(FE_FILLED + FE_FILLED_CORE)).mark_square(color="#ff00ff", size=14, opacity=1).encode(
            x=alt.X("x:Q", scale=xs, axis=None), y=alt.Y("y:Q", scale=ys, axis=None)))
    layers.append(thick)

    sun = pd.DataFrame({"x": SUN_R, "y": SUN_XH})
    layers.append(alt.Chart(sun).mark_point(shape="circle", filled=False, color="black", size=42,
                                            strokeWidth=1.8, opacity=1).encode(
        x=alt.X("x:Q", scale=xs, axis=None), y=alt.Y("y:Q", scale=ys, axis=None)))
    layers.append(alt.Chart(sun).mark_point(shape="circle", filled=True, color="black", size=3,
                                            opacity=1).encode(
        x=alt.X("x:Q", scale=xs, axis=None), y=alt.Y("y:Q", scale=ys, axis=None)))

    layers.append(alt.Chart(pd.DataFrame({"t": [el]})).mark_text(
        align="left", baseline="alphabetic", font=FONT, fontSize=14, color="#333333"
    ).encode(x=alt.value(67), y=alt.value(14), text="t:N"))

    layers += tick_layers()
    return alt.layer(*layers).resolve_axis(x="independent", y="independent").properties(width=W, height=H)


panels = [panel(ELEMENTS[r * 5 + c], r, c) for r in range(4) for c in range(5)]

chart = alt.concat(*panels, columns=5, spacing=0, bounds="flush").properties(
    padding={"left": 0, "top": 14, "right": 5, "bottom": 0}
).configure_view(stroke="black", strokeWidth=1).configure_axis(
    labelFont=FONT, labelFontSize=10.5, labelColor="#222222",
    titleFont=FONT, titleFontSize=11.5, titleColor="#222222", titleFontWeight="normal"
)

chart.save("out.html", embed_options={"renderer": "svg", "actions": False})
